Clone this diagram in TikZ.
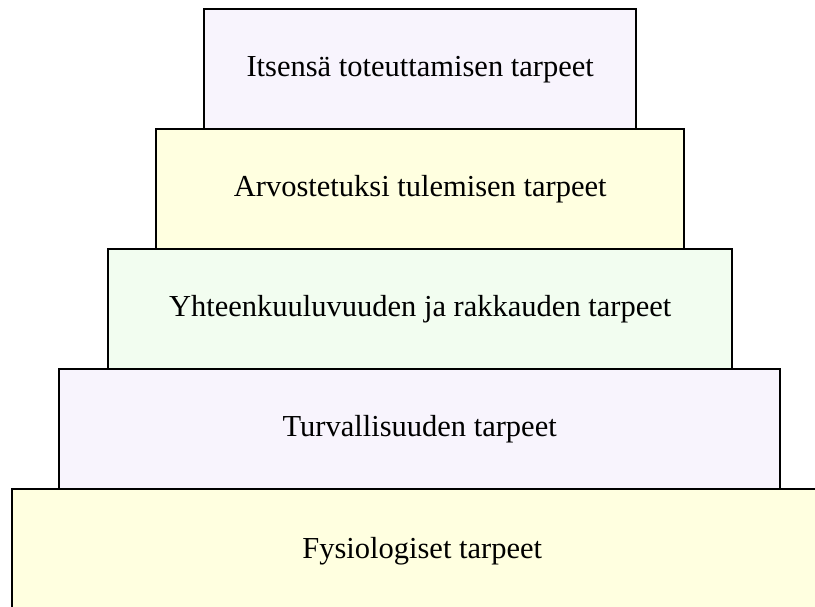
\documentclass[tikz,border=0pt]{standalone}
\usepackage{fontspec}
\setmainfont{Liberation Serif}
\definecolor{lavfill}{HTML}{F8F4FD}
\definecolor{yelfill}{HTML}{FFFFE0}
\definecolor{grnfill}{HTML}{F2FDF0}
\tikzset{
  level/.style={draw=black, line width=2.4pt, anchor=north west, inner sep=0pt,
    font=\fontsize{30.5}{34}\selectfont},
}
\begin{document}
\begin{tikzpicture}[x=1pt, y=-1pt]
  \useasboundingbox (0,0) rectangle (815,607);
  \clip (0,0) rectangle (815,607);
  % pyramid levels, top to bottom
  \node[level, fill=lavfill, minimum width=432pt, minimum height=120pt] (self) at (203,8)
    {Itsensä toteuttamisen tarpeet};
  \node[level, fill=yelfill, minimum width=528pt, minimum height=120pt] (esteem) at (155,128)
    {Arvostetuksi tulemisen tarpeet};
  \node[level, fill=grnfill, minimum width=624pt, minimum height=120pt] (love) at (107,248)
    {Yhteenkuuluvuuden ja rakkauden tarpeet};
  \node[level, fill=lavfill, minimum width=721pt, minimum height=120pt] (safety) at (58,368)
    {Turvallisuuden tarpeet};
  \node[level, fill=yelfill, minimum width=820pt, minimum height=124pt] (physio) at (11,488)
    {Fysiologiset tarpeet};
\end{tikzpicture}
\end{document}
